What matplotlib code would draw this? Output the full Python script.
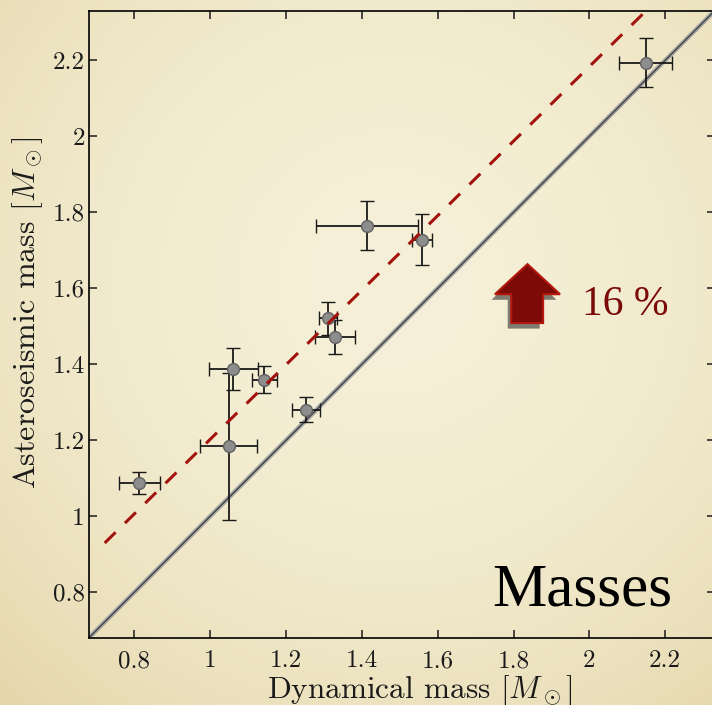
import matplotlib
matplotlib.use("Agg")
import matplotlib.pyplot as plt
import matplotlib.patheffects as pe
import numpy as np
from matplotlib.patches import Polygon

dyn_mass = [0.813, 1.061, 1.048, 1.142, 1.253, 1.413, 1.558, 1.311, 1.329, 2.148]
dyn_err = [0.054, 0.065, 0.076, 0.033, 0.037, 0.134, 0.026, 0.024, 0.053, 0.069]
ast_mass = [1.087, 1.388, 1.184, 1.359, 1.280, 1.765, 1.728, 1.521, 1.471, 2.194]
ast_err = [0.029, 0.055, 0.193, 0.036, 0.033, 0.064, 0.067, 0.043, 0.045, 0.064]

# offset trend line (drawn from top-right end)
trend_x = [2.14, 0.71]
trend_y = [2.321, 0.918]

ticks = [0.8, 1.0, 1.2, 1.4, 1.6, 1.8, 2.0, 2.2]
tick_labels = ["0.8", "1", "1.2", "1.4", "1.6", "1.8", "2", "2.2"]
lims = (0.68, 2.33)

plt.rcParams["font.family"] = "cmr10"
plt.rcParams["mathtext.fontset"] = "cm"
plt.rcParams["axes.formatter.use_mathtext"] = True

W, H = 712, 705
fig = plt.figure(figsize=(W / 100, H / 100), dpi=100)

# parchment background with a soft vignette
yy, xx = np.mgrid[0:H, 0:W]
r = np.hypot((xx - W * 0.55) / (W * 0.6), (yy - H * 0.4) / (H * 0.6))
r = np.clip(r, 0, 1.4) ** 2
center = np.array([245, 240, 215]) / 255
edge = np.array([228, 213, 168]) / 255
bg = center + (edge - center) * (r[..., None] / 1.96)
fig.figimage(bg, xo=0, yo=0, origin="upper", zorder=-10)

ax = fig.add_axes([89 / W, 0.0955, (714.5 - 89) / W, 0.889])
ax.set_zorder(1)
ax.patch.set_alpha(0)

ax.axline((1, 1), slope=1, color="#a5a5a5", lw=3.2, zorder=1)
ax.axline((1, 1), slope=1, color="#3c3c3c", lw=0.9, zorder=1.1)

ax.errorbar(dyn_mass, ast_mass, xerr=dyn_err, yerr=ast_err, fmt="o",
            ms=8.5, mfc="#8d8d8d", mec="#606060", mew=1.0,
            ecolor="#1a1a1a", elinewidth=1.3, capsize=5, capthick=1.3,
            zorder=2)

ax.plot(trend_x, trend_y, color="#a3130d", lw=2.2, dashes=(5, 4.3),
        solid_capstyle="butt", dash_capstyle="butt", zorder=3)

ax.set_xlim(lims)
ax.set_ylim(lims)
ax.set_xticks(ticks)
ax.set_xticklabels(tick_labels)
ax.set_yticks(ticks)
ax.set_yticklabels(tick_labels)
ax.tick_params(direction="in", top=True, right=True, length=5.5, width=1.1,
               labelsize=18, colors="#1a1a1a")
ax.tick_params(axis="x", pad=9)
ax.tick_params(axis="y", pad=3)
for s in ax.spines.values():
    s.set_linewidth(1.2)

ax.set_xlabel(r"Dynamical mass $[M_\odot]$", fontsize=22.5, color="#1a1a1a")
ax.xaxis.set_label_coords(0.529, -0.085)
ax.xaxis.label.set_va("center")
ax.set_ylabel(r"Asteroseismic mass $[M_\odot]$", fontsize=23, color="#1a1a1a")
ax.yaxis.set_label_coords(-0.0975, 0.518)
ax.yaxis.label.set_va("center")

# "16 %" arrow annotation
arrow = Polygon([(0.701, 0.596), (0.753, 0.548), (0.726, 0.548), (0.726, 0.502),
                 (0.675, 0.502), (0.675, 0.548), (0.649, 0.548)],
                closed=True, transform=ax.transAxes, facecolor="#7c0a06",
                edgecolor="#b3180e", lw=1.5, zorder=4,
                path_effects=[pe.SimplePatchShadow(offset=(-2.5, -4), alpha=0.55,
                                                   shadow_rgbFace="#1e1e1e"),
                              pe.Normal()])
ax.add_patch(arrow)
ax.text(0.788, 0.531, "16 %", transform=ax.transAxes, fontsize=30,
        family="Liberation Serif", color="#7a0b08", va="center", ha="left")

ax.text(0.644, 0.052, "Masses", transform=ax.transAxes, fontsize=44,
        family="Liberation Serif", color="black", va="baseline", ha="left")

fig.savefig("out.png", dpi=100)
